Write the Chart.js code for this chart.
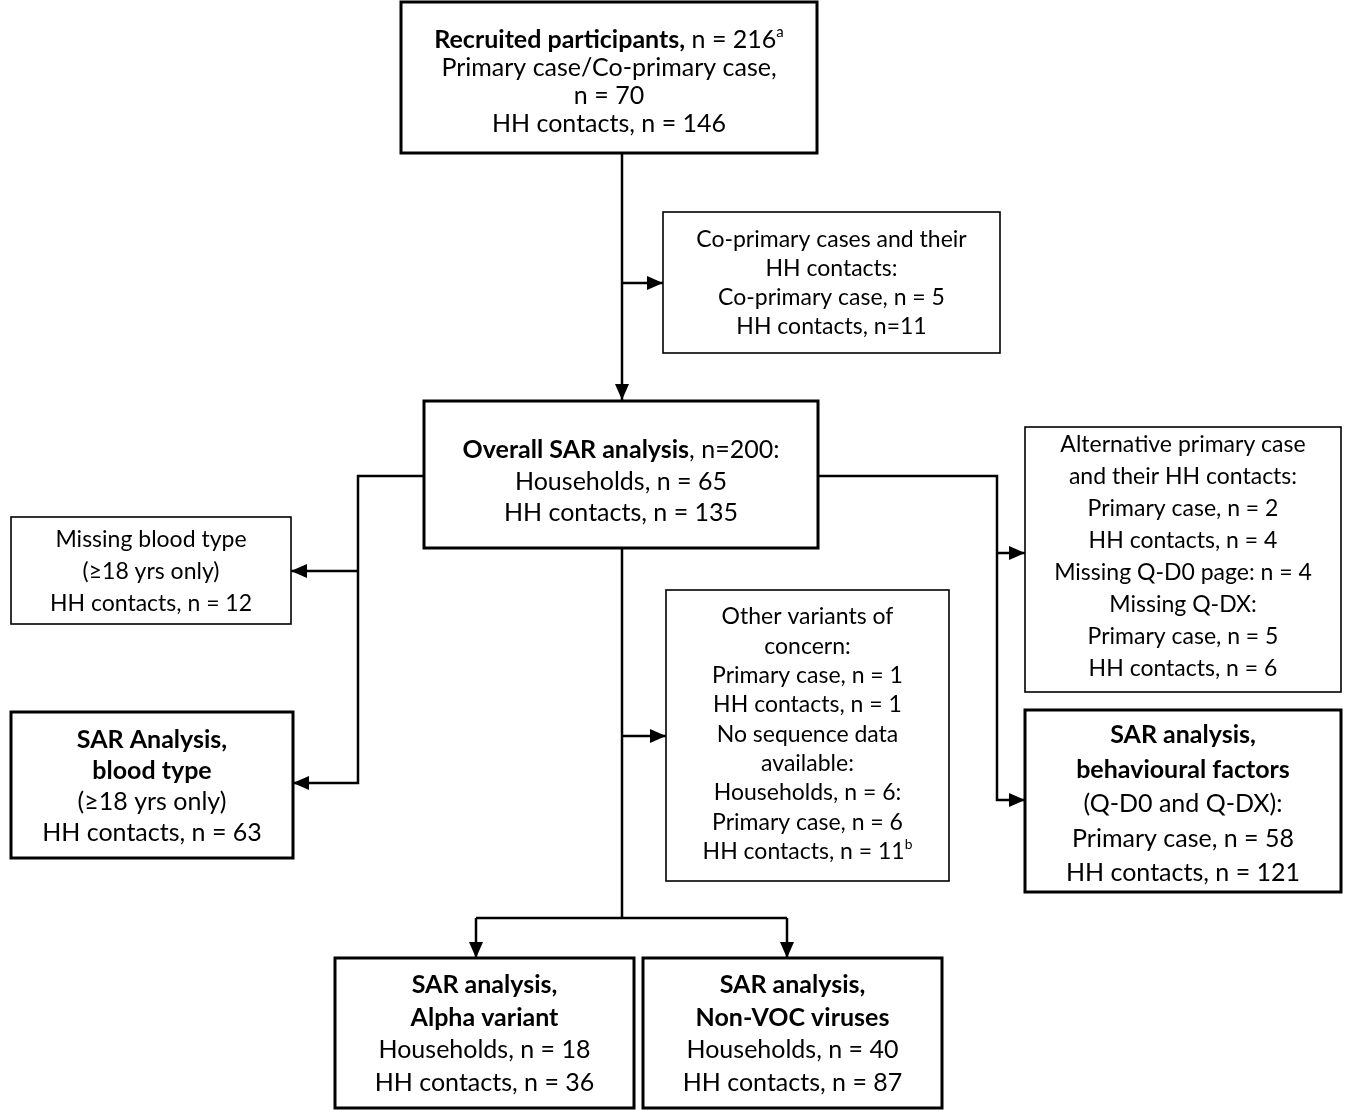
<!DOCTYPE html>
<html>
<head>
  <meta charset="UTF-8">
  <title>SAR analysis flow</title>
  <script src="https://cdn.jsdelivr.net/npm/chart.js"></script>
  <style>
    body { margin: 0; background: white; }
    canvas { display: block; }
  </style>
</head>
<body>
  <canvas id="flow" width="1356" height="1110"></canvas>
  <script>
    // box texts (** toggles bold, ^ makes a superscript)
    const boxTexts = [
      ['**Recruited participants,** n = 216^a', 'Primary case/Co-primary case,', 'n = 70', 'HH contacts, n = 146'],
      ['Co-primary cases and their', 'HH contacts:', 'Co-primary case, n = 5', 'HH contacts, n=11'],
      ['**Overall SAR analysis**, n=200:', 'Households, n = 65', 'HH contacts, n = 135'],
      ['Alternative primary case', 'and their HH contacts:', 'Primary case, n = 2', 'HH contacts, n = 4', 'Missing Q-D0 page: n = 4', 'Missing Q-DX:', 'Primary case, n = 5', 'HH contacts, n = 6'],
      ['Missing blood type', '(≥18 yrs only)', 'HH contacts, n = 12'],
      ['**SAR Analysis,**', '**blood type**', '(≥18 yrs only)', 'HH contacts, n = 63'],
      ['Other variants of', 'concern:', 'Primary case, n = 1', 'HH contacts, n = 1', 'No sequence data', 'available:', 'Households, n = 6:', 'Primary case, n = 6', 'HH contacts, n = 11^b'],
      ['**SAR analysis,**', '**behavioural factors**', '(Q-D0 and Q-DX):', 'Primary case, n = 58', 'HH contacts, n = 121'],
      ['**SAR analysis,**', '**Alpha variant**', 'Households, n = 18', 'HH contacts, n = 36'],
      ['**SAR analysis,**', '**Non-VOC viruses**', 'Households, n = 40', 'HH contacts, n = 87']
    ];
    // box frames in chart units: [left, top, right, bottom]
    const boxFrames = [
      [401, 2, 817, 153], [663, 212, 1000, 353], [424, 401, 818, 548],
      [1025, 427, 1341, 692], [11, 517, 291, 624], [11, 712, 293, 858],
      [666, 590, 949, 881], [1025, 710, 1341, 892], [335, 958, 634, 1108],
      [643, 958, 942, 1108]
    ];
    const boxFirstLine = [40, 240, 450, 445, 540, 740, 617, 735, 985, 985];
    const boxLineStep = [28, 29, 31.5, 32, 32, 31, 29.3, 34.5, 32.5, 32.5];
    const boxThick = [true, false, true, false, false, true, false, true, true, true];
    const boxFont = [25, 23, 25, 23, 23, 25, 23, 25, 25, 25];
    // connectors: polylines, last point gets an arrowhead if arrow flag set
    const links = [
      [[[622, 153], [622, 400]], true],
      [[[622, 283], [663, 283]], true],
      [[[424, 476], [358, 476], [358, 783], [293, 783]], true],
      [[[358, 571], [291, 571]], true],
      [[[818, 476], [997, 476], [997, 800], [1025, 800]], true],
      [[[997, 553], [1025, 553]], true],
      [[[622, 548], [622, 918]], false],
      [[[622, 736], [666, 736]], true],
      [[[476, 918], [787, 918]], false],
      [[[476, 918], [476, 958]], true],
      [[[787, 918], [787, 958]], true]
    ];

    const FONT = 'Lato, "Open Sans", sans-serif';

    function parseLine(s) {
      const segs = [];
      let sup = null;
      const i = s.indexOf('^');
      if (i >= 0) { sup = s.slice(i + 1); s = s.slice(0, i); }
      s.split('**').forEach((t, k) => { if (t) segs.push({ t, b: k % 2 === 1 }); });
      if (sup) segs.push({ t: sup, sup: true });
      return segs;
    }

    const flowPlugin = {
      id: 'flow',
      afterDraw(chart) {
        const ctx = chart.ctx, xs = chart.scales.x, ys = chart.scales.y;
        const px = v => xs.getPixelForValue(v), py = v => ys.getPixelForValue(v);
        ctx.save();
        ctx.strokeStyle = '#000';
        ctx.fillStyle = '#000';

        links.forEach(([pts, arrow]) => {
          ctx.lineWidth = 2.5;
          ctx.beginPath();
          pts.forEach(([x, y], k) => k ? ctx.lineTo(px(x), py(y)) : ctx.moveTo(px(x), py(y)));
          ctx.stroke();
          if (arrow) {
            const [x1, y1] = pts[pts.length - 2], [x2, y2] = pts[pts.length - 1];
            const a = Math.atan2(py(y2) - py(y1), px(x2) - px(x1));
            const L = 16, W = 7;
            ctx.beginPath();
            ctx.moveTo(px(x2), py(y2));
            ctx.lineTo(px(x2) - L * Math.cos(a) + W * Math.sin(a), py(y2) - L * Math.sin(a) - W * Math.cos(a));
            ctx.lineTo(px(x2) - L * Math.cos(a) - W * Math.sin(a), py(y2) - L * Math.sin(a) + W * Math.cos(a));
            ctx.closePath();
            ctx.fill();
          }
        });

        boxFrames.forEach((f, i) => {
          const l = px(f[0]), t = py(f[1]), r = px(f[2]), b = py(f[3]);
          ctx.fillStyle = '#fff';
          ctx.fillRect(l, t, r - l, b - t);
          ctx.lineWidth = boxThick[i] ? 3 : 1.6;
          ctx.strokeRect(l, t, r - l, b - t);
          ctx.fillStyle = '#000';
          const fs = boxFont[i];
          const cx = (l + r) / 2;
          ctx.textBaseline = 'middle';
          boxTexts[i].forEach((line, k) => {
            const segs = parseLine(line);
            const fontOf = s => (s.b ? 'bold ' : '') + (s.sup ? fs * 0.6 : fs) + 'px ' + FONT;
            let w = 0;
            segs.forEach(s => { ctx.font = fontOf(s); s.w = ctx.measureText(s.t).width; w += s.w; });
            let x = cx - w / 2;
            const y = py(boxFirstLine[i] + k * boxLineStep[i]);
            ctx.textAlign = 'left';
            segs.forEach(s => {
              ctx.font = fontOf(s);
              ctx.fillText(s.t, x, s.sup ? y - fs * 0.3 : y);
              x += s.w;
            });
          });
        });
        ctx.restore();
      }
    };

    new Chart(document.getElementById('flow'), {
      type: 'scatter',
      data: { datasets: [{ data: [] }] },
      options: {
        responsive: false,
        animation: false,
        layout: { padding: 0 },
        plugins: { legend: { display: false }, tooltip: { enabled: false } },
        scales: {
          x: { type: 'linear', min: 0, max: 1356, display: false },
          y: { type: 'linear', min: 0, max: 1110, reverse: true, display: false }
        }
      },
      plugins: [flowPlugin]
    });
  </script>
</body>
</html>
